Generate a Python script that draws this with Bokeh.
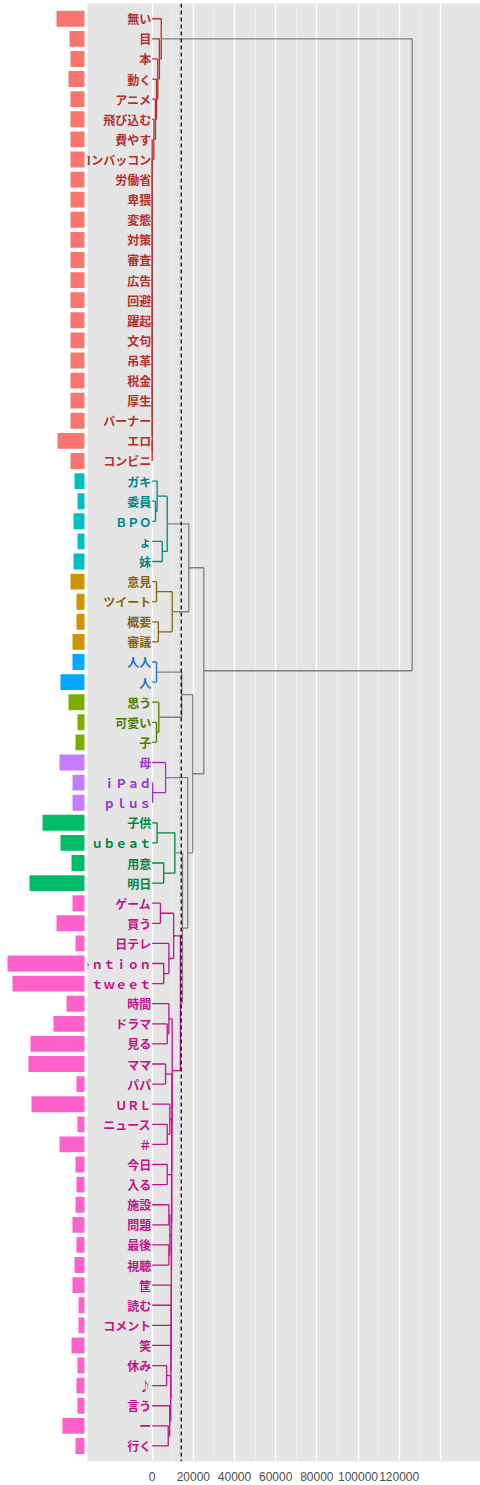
from bokeh.plotting import figure
from bokeh.layouts import row
from bokeh.models import Range1d, FixedTicker, Span, ColumnDataSource, BasicTickFormatter
from bokeh.embed import file_html
from bokeh.resources import INLINE
from bokeh.core.properties import value

# ---- data -------------------------------------------------------------
labels = ["無い", "目", "本", "動く", "アニメ", "飛び込む", "費やす", "バッコンバッコン",
          "労働省", "卑猥", "変態", "対策", "審査", "広告", "回避", "躍起", "文句", "吊革",
          "税金", "厚生", "バーナー", "エロ", "コンビニ",
          "ガキ", "委員", "ＢＰＯ", "ょ", "妹",
          "意見", "ツイート", "概要", "審議",
          "人人", "人",
          "思う", "可愛い", "子",
          "母", "ｉＰａｄ", "ｐｌｕｓ",
          "子供", "ｕｂｅａｔ", "用意", "明日",
          "ゲーム", "買う", "日テレ", "ｍｅｎｔｉｏｎ", "ｔｗｅｅｔ", "時間", "ドラマ", "見る",
          "ママ", "パパ", "ＵＲＬ", "ニュース", "＃", "今日", "入る", "施設", "問題", "最後",
          "視聴", "筐", "読む", "コメント", "笑", "休み", "♪", "言う", "ー", "行く"]

freq = [28, 15, 14, 16, 14, 14, 14, 14, 14, 14, 14, 14, 14, 14, 14, 14, 14, 14, 14, 14, 14, 27, 14,
        10, 7, 11, 7, 11,
        14, 8, 8, 12,
        12, 24,
        16, 7, 9,
        25, 12, 12,
        42, 24, 13, 55,
        12, 28, 9, 77, 72, 18, 31, 54, 56, 8, 53, 7, 25, 9, 8, 9, 12, 8,
        10, 12, 6, 6, 13, 7, 8, 7, 22, 9]

# merges: (node, left child, right child, height)
merges = [
    ("r22", "エロ", "コンビニ", 0),
    ("r21", "バーナー", "r22", 0),
    ("r20", "厚生", "r21", 0),
    ("r19", "税金", "r20", 0),
    ("r18", "吊革", "r19", 0),
    ("r17", "文句", "r18", 0),
    ("r16", "躍起", "r17", 0),
    ("r15", "回避", "r16", 0),
    ("r14", "広告", "r15", 0),
    ("r13", "審査", "r14", 0),
    ("r12", "対策", "r13", 0),
    ("r11", "変態", "r12", 0),
    ("r10", "卑猥", "r11", 0),
    ("r9", "労働省", "r10", 0),
    ("r8", "バッコンバッコン", "r9", 0),
    ("r7", "費やす", "r8", 0),
    ("r6", "飛び込む", "r7", 800),
    ("r5", "アニメ", "r6", 1600),
    ("r4", "動く", "r5", 2100),
    ("r3", "本", "r4", 2700),
    ("r2", "目", "r3", 3500),
    ("r1", "無い", "r2", 4400),
    ("t1", "委員", "ＢＰＯ", 1600),
    ("t2", "ガキ", "t1", 2400),
    ("t3", "ょ", "妹", 4900),
    ("t4", "t2", "t3", 7300),
    ("b1", "意見", "ツイート", 2100),
    ("b2", "概要", "審議", 3000),
    ("b3", "b1", "b2", 9700),
    ("tb", "t4", "b3", 17800),
    ("u1", "人人", "人", 2100),
    ("o1", "可愛い", "子", 2100),
    ("o2", "思う", "o1", 3200),
    ("uo", "u1", "o2", 14350),
    ("m1", "ｉＰａｄ", "ｐｌｕｓ", 200),
    ("m2", "母", "m1", 6500),
    ("g1", "子供", "ｕｂｅａｔ", 2400),
    ("g2", "用意", "明日", 5600),
    ("g3", "g1", "g2", 11000),
    ("k1", "ゲーム", "買う", 4000),
    ("k2", "ｍｅｎｔｉｏｎ", "ｔｗｅｅｔ", 5600),
    ("k3", "日テレ", "k2", 8100),
    ("k4", "k1", "k3", 10400),
    ("d1", "ドラマ", "見る", 7300),
    ("d2", "時間", "d1", 8100),
    ("p1", "ママ", "パパ", 6500),
    ("n1", "ニュース", "＃", 7300),
    ("n2", "ＵＲＬ", "n1", 8550),
    ("j1", "今日", "入る", 7300),
    ("s1", "施設", "問題", 8100),
    ("s2", "最後", "視聴", 8100),
    ("s3", "s1", "s2", 8550),
    ("y1", "休み", "♪", 7000),
    ("i1", "ー", "行く", 7800),
    ("i2", "言う", "i1", 8500),
    ("w1", "y1", "i2", 9000),
    ("w2", "笑", "w1", 9100),
    ("w3", "コメント", "w2", 9150),
    ("w4", "読む", "w3", 9200),
    ("w5", "筐", "w4", 9250),
    ("w6", "s3", "w5", 9300),
    ("w7", "j1", "w6", 9400),
    ("w8", "n2", "w7", 9500),
    ("w9", "p1", "w8", 9600),
    ("k5", "d2", "w9", 9700),
    ("k6", "k4", "k5", 13700),
    ("gk", "g3", "k6", 14700),
    ("mg", "m2", "gk", 17300),
    ("um", "uo", "mg", 19700),
    ("top", "tb", "um", 25100),
    ("root", "r1", "top", 126300),
]

cut_height = 14100
x_ticks = [0, 20000, 40000, 60000, 80000, 100000, 120000]
grid_major = [0, 20000, 40000, 60000, 80000, 100000, 120000, 140000]
grid_minor = [10000, 30000, 50000, 70000, 90000, 110000, 130000]

bar_palette = ["#F8766D", "#00BFC4", "#CD9600", "#00A9FF", "#7CAE00", "#C77CFF", "#00BE67", "#FF61CC"]
dark_palette = ["#B5302A", "#00868B", "#8B6508", "#1C74C6", "#4F7C00", "#9A32CD", "#00853E", "#C2118A"]
grey_link = "#808080"

# ---- tree geometry ------------------------------------------------------
pos = {lab: i + 1 for i, lab in enumerate(labels)}
hgt = {lab: 0.0 for lab in labels}
kids = {}
for name, a, b, h in merges:
    pos[name] = (pos[a] + pos[b]) / 2.0
    hgt[name] = h
    kids[name] = (a, b)
root = merges[-1][0]

cluster_of = {}
order = []


def assign(node, cid):
    if node in kids:
        for c in kids[node]:
            assign(c, cid)
    cluster_of[node] = cid


def find_clusters(node):
    if node in kids and hgt[node] > cut_height:
        for c in kids[node]:
            find_clusters(c)
    else:
        cid = len(order)
        order.append(node)
        assign(node, cid)


find_clusters(root)

x0, y0, x1, y1, col = [], [], [], [], []
for name, a, b, h in merges:
    c = grey_link if h > cut_height else dark_palette[cluster_of[name]]
    x0.append(h); y0.append(pos[a]); x1.append(h); y1.append(pos[b]); col.append(c)
    for ch in (a, b):
        x0.append(hgt[ch]); y0.append(pos[ch]); x1.append(h); y1.append(pos[ch]); col.append(c)

seg_src = ColumnDataSource(dict(x0=x0, y0=y0, x1=x1, y1=y1, color=col))
leaf_src = ColumnDataSource(dict(
    y=[pos[l] for l in labels],
    label=labels,
    freq=freq,
    tcolor=[dark_palette[cluster_of[l]] for l in labels],
    bcolor=[bar_palette[cluster_of[l]] for l in labels],
))

# ---- figures ------------------------------------------------------------
H = 1483
yr = Range1d(72.774, 0.241)

p = figure(width=393, height=H, x_range=Range1d(-31434, 159500), y_range=yr,
           output_backend="svg", toolbar_location=None, y_axis_location=None,
           min_border_left=0, min_border_right=0, min_border_top=3, min_border_bottom=18,
           background_fill_color="#E5E5E5", outline_line_color=None)
p.ygrid.visible = False
p.xaxis.ticker = FixedTicker(ticks=x_ticks)
p.xaxis.formatter = BasicTickFormatter(use_scientific=False)
p.xgrid.ticker = FixedTicker(ticks=grid_major, minor_ticks=grid_minor)
p.xgrid.grid_line_color = "white"
p.xgrid.grid_line_width = 1.4
p.xgrid.minor_grid_line_color = "#F2F2F2"
p.xgrid.minor_grid_line_width = 0.7
p.xaxis.axis_line_color = None
p.xaxis.major_tick_line_color = None
p.xaxis.minor_tick_line_color = None
p.xaxis.major_label_text_color = "#4D4D4D"
p.xaxis.major_label_text_font = "Liberation Sans"
p.xaxis.major_label_text_font_size = "12px"
p.xaxis.major_label_standoff = 4

p.segment(x0="x0", y0="y0", x1="x1", y1="y1", line_color="color", line_width=1.3, source=seg_src)
p.add_layout(Span(location=cut_height, dimension="height", line_color="black",
                  line_width=1.3, line_dash="4 3"))
p.text(x=0, y="y", text="label", source=leaf_src, text_color="tcolor",
       text_align="right", text_baseline="middle", x_offset=-1,
       text_font=value("Noto Sans CJK JP"), text_font_style="bold", text_font_size="12px")

q = figure(width=87, height=H, x_range=Range1d(84, -3), y_range=yr,
           output_backend="svg", toolbar_location=None,
           x_axis_location=None, y_axis_location=None,
           min_border_left=0, min_border_right=0, min_border_top=3, min_border_bottom=18,
           outline_line_color=None)
q.grid.visible = False
q.hbar(y="y", left=0, right="freq", height=0.79, fill_color="bcolor", line_color=None, source=leaf_src)

layout = row(q, p)
open("out.html", "w").write(file_html(layout, INLINE))
